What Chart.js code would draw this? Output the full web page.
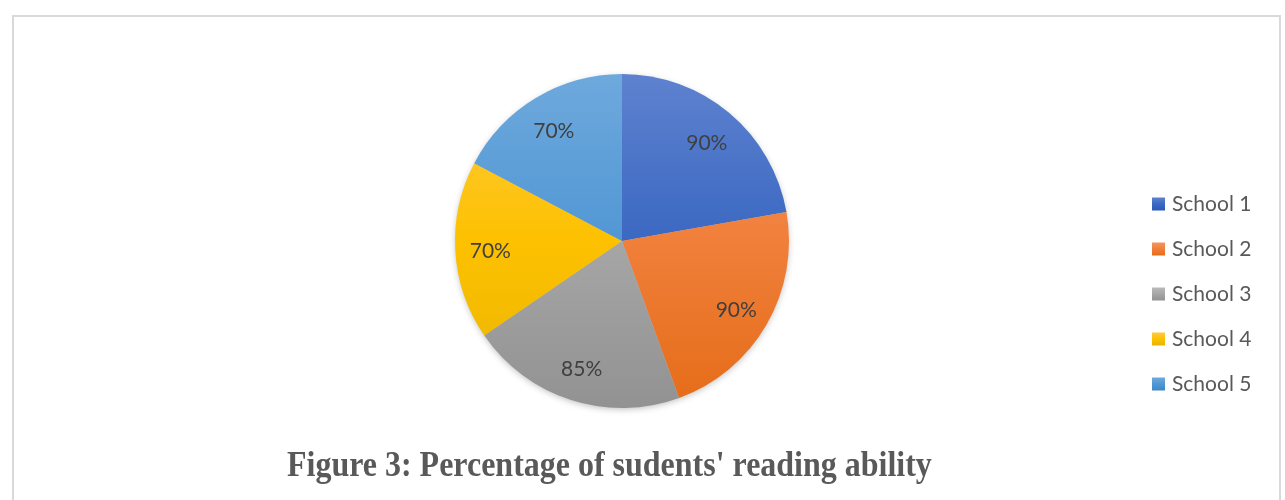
<!DOCTYPE html>
<html>
<head>
<meta charset="utf-8">
<script src="https://cdn.jsdelivr.net/npm/chart.js@4.4.0/dist/chart.umd.min.js"></script>
<style>
  body { margin: 0; background: #fff; }
  #wrap { position: relative; width: 1285px; height: 500px; overflow: hidden; }
  #frame { position: absolute; left: 12px; top: 15px; width: 1265px; height: 520px; border: 2px solid #d9d9d9; }
  #myChart { position: absolute; left: 0; top: 0; }
  #caption { position: absolute; left: 287px; top: 445px; white-space: nowrap;
    font-family: 'Liberation Serif', 'Times New Roman', serif; font-weight: bold;
    font-size: 35px; color: #595959; transform-origin: 0 0; }
</style>
</head>
<body>
<div id="wrap">
  <div id="frame"></div>
  <canvas id="myChart" width="1285" height="500"></canvas>
  <div id="caption">Figure 3: Percentage of sudents' reading ability</div>
</div>
<script>
var schools = ['School 1', 'School 2', 'School 3', 'School 4', 'School 5'];
var ability = [90, 90, 85, 70, 70];
var pctLabels = ['90%', '90%', '85%', '70%', '70%'];

// light top / base / dark bottom for each slice
var shades = [
  ['#5e82cf', '#3b68c2', '#2b59b6'],
  ['#f4955f', '#f07f3a', '#e56c18'],
  ['#b9b9b9', '#a6a6a6', '#929292'],
  ['#ffca45', '#fdc100', '#e9b400'],
  ['#6ea9dd', '#5197d4', '#3f86c6']
];

function makeGrad(ctx, top, bottom, c) {
  var g = ctx.createLinearGradient(0, top, 0, bottom);
  g.addColorStop(0, c[0]);
  g.addColorStop(0.5, c[1]);
  g.addColorStop(1, c[2]);
  return g;
}

// soft shadow under the whole pie
var pieShadow = {
  id: 'pieShadow',
  beforeDatasetsDraw(chart) {
    var arc = chart.getDatasetMeta(0).data[0];
    if (!arc) return;
    var ctx = chart.ctx;
    ctx.save();
    ctx.shadowColor = 'rgba(0,0,0,0.28)';
    ctx.shadowBlur = 7;
    ctx.shadowOffsetY = 2;
    ctx.fillStyle = '#bbbbbb';
    ctx.beginPath();
    ctx.arc(arc.x, arc.y, arc.outerRadius - 1, 0, Math.PI * 2);
    ctx.fill();
    ctx.restore();
  }
};

// percentage text inside each slice
var sliceLabels = {
  id: 'sliceLabels',
  afterDatasetsDraw(chart) {
    var ctx = chart.ctx;
    ctx.save();
    ctx.font = '21px Lato';
    ctx.fillStyle = '#404040';
    ctx.textAlign = 'center';
    ctx.textBaseline = 'middle';
    chart.getDatasetMeta(0).data.forEach(function(arc, i) {
      var mid = (arc.startAngle + arc.endAngle) / 2;
      var r = arc.outerRadius * 0.79;
      ctx.fillText(pctLabels[i], arc.x + Math.cos(mid) * r, arc.y + Math.sin(mid) * r + 3);
    });
    ctx.restore();
  }
};

// legend on the right, one row per school
var sideLegend = {
  id: 'sideLegend',
  afterDraw(chart) {
    var ctx = chart.ctx;
    var x = 1152, y0 = 204, gap = 45, box = 13;
    ctx.save();
    ctx.font = '21px Lato';
    ctx.textBaseline = 'middle';
    schools.forEach(function(name, i) {
      var y = y0 + i * gap;
      ctx.fillStyle = makeGrad(ctx, y - box / 2, y + box / 2, shades[i]);
      ctx.fillRect(x, y - box / 2, box, box);
      ctx.fillStyle = '#595959';
      ctx.fillText(name, x + 20, y);
    });
    ctx.restore();
  }
};

var ctx = document.getElementById('myChart').getContext('2d');
var myChart = new Chart(ctx, {
  type: 'pie',
  data: {
    labels: schools,
    datasets: [{
      data: ability,
      backgroundColor: function(c) {
        var area = c.chart.chartArea;
        if (!area) return shades[c.dataIndex][1];
        return makeGrad(c.chart.ctx, area.top, area.bottom, shades[c.dataIndex]);
      },
      borderWidth: 0
    }]
  },
  options: {
    responsive: false,
    animation: false,
    layout: { padding: { left: 400, right: 441, top: 74, bottom: 92 } },
    plugins: {
      legend: { display: false },
      tooltip: { enabled: false }
    }
  },
  plugins: [pieShadow, sliceLabels, sideLegend]
});

// squeeze the caption to its printed width
var cap = document.getElementById('caption');
cap.style.transform = 'scaleX(' + (645 / cap.offsetWidth) + ')';
</script>
</body>
</html>
